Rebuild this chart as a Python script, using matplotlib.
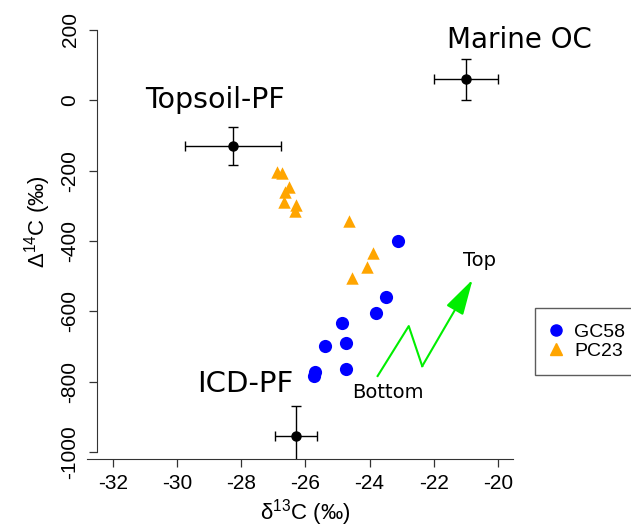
import matplotlib
matplotlib.use("Agg")
import matplotlib.pyplot as plt
from matplotlib.patches import FancyArrowPatch

plt.rcParams['font.family'] = ['Liberation Sans', 'DejaVu Sans']
plt.rcParams['mathtext.fontset'] = 'custom'
plt.rcParams['mathtext.rm'] = 'Liberation Sans'

# GC58 core (blue circles)
gc58_d13c = [-23.1, -23.5, -23.8, -24.85, -25.4, -24.75, -24.75, -25.7, -25.72]
gc58_d14c = [-400, -559, -606, -632, -699, -690, -764, -772, -784]

# PC23 core (orange triangles)
pc23_d13c = [-26.9, -26.74, -26.5, -26.64, -26.67, -26.3, -26.32, -24.63, -23.89, -24.07, -24.56]
pc23_d14c = [-205, -207, -246, -262, -288, -297, -314, -343, -433, -473, -506]

# end members: name, d13C, d14C, d13C err, d14C err
end_names = ['Marine OC', 'Topsoil-PF', 'ICD-PF']
end_d13c = [-21.0, -28.25, -26.3]
end_d14c = [60, -130, -955]
end_d13c_err = [1.0, 1.5, 0.65]
end_d14c_err = [58, 55, 85]

# bottom -> top zigzag arrow
zig_x = [-23.75, -22.78, -22.36, -20.79]
zig_y = [-784, -642, -756, -510]

xticks = list(range(-32, -19, 2))
yticks = list(range(-1000, 201, 200))

fig = plt.figure(figsize=(6.31, 5.30), dpi=100)
ax = fig.add_axes([87 / 631, 71 / 530, 426 / 631, 436.4 / 530])
ax.set_xlim(-32.81, -19.53)
ax.set_ylim(-1020, 221)

ax.errorbar(end_d13c, end_d14c, xerr=end_d13c_err, yerr=end_d14c_err,
            fmt='o', color='black', ms=6.5, elinewidth=1, capsize=3.5, capthick=1)

ax.scatter(pc23_d13c, pc23_d14c, marker='^', s=80, color='#FFA500', linewidths=0, zorder=3)
ax.scatter(gc58_d13c, gc58_d14c, marker='o', s=90, color='#0000FF', linewidths=0, zorder=3)

ax.plot(zig_x[:-1], zig_y[:-1], color='#00EE00', lw=1.5)
arrow = FancyArrowPatch((zig_x[-2], zig_y[-2]), (zig_x[-1], zig_y[-1]),
                        arrowstyle='-|>,head_length=2.2,head_width=0.6',
                        mutation_scale=10, color='#00EE00', lw=1.5, shrinkA=0, shrinkB=0)
ax.add_patch(arrow)

ax.text(-19.34, 171, 'Marine OC', fontsize=20, family='DejaVu Sans', ha='center', va='center')
ax.text(-28.82, 0, 'Topsoil-PF', fontsize=20.5, family='DejaVu Sans', ha='center', va='center')
ax.text(-27.89, -808, 'ICD-PF', fontsize=21, family='DejaVu Sans', ha='center', va='center')
ax.text(-20.56, -455, 'Top', fontsize=14, family='DejaVu Sans', ha='center', va='center')
ax.text(-23.43, -830, 'Bottom', fontsize=14, family='DejaVu Sans', ha='center', va='center')

for s in ['top', 'right']:
    ax.spines[s].set_visible(False)
ax.spines['left'].set_position(('data', -32.5))
ax.spines['left'].set_bounds(-1000, 200)
ax.spines['left'].set_color('#333333')
ax.spines['bottom'].set_color('#333333')

ax.set_xticks(xticks)
ax.set_xticklabels([str(t) for t in xticks])
ax.set_yticks(yticks)
ax.set_yticklabels([str(t) for t in yticks], rotation=90, va='center')
ax.tick_params(direction='out', length=5.5, width=0.9, color='#333333', labelsize=15, pad=5)
ax.tick_params(axis='y', pad=7)

fig.text(305 / 631, 1 - 513 / 530, r'$\mathregular{\delta^{13}}$C (‰)', fontsize=16,
         ha='center', va='center')
fig.text(38 / 631, 1 - 222 / 530, r'$\mathregular{\Delta^{14}}$C (‰)', fontsize=16,
         ha='center', va='center', rotation=90)

handles = [
    plt.Line2D([], [], marker='o', ls='', color='#0000FF', ms=8),
    plt.Line2D([], [], marker='^', ls='', color='#FFA500', ms=8),
]
leg = fig.legend(handles, ['GC58', 'PC23'], loc='upper left',
                 bbox_to_anchor=(535 / 631, 1 - 308 / 530), fontsize=14,
                 frameon=True, fancybox=False, borderpad=0.8, borderaxespad=0,
                 handletextpad=0.6, handlelength=0.6, labelspacing=0.05)
leg.get_frame().set_edgecolor('#333333')
leg.get_frame().set_linewidth(1)

fig.savefig('out.png', dpi=100)
